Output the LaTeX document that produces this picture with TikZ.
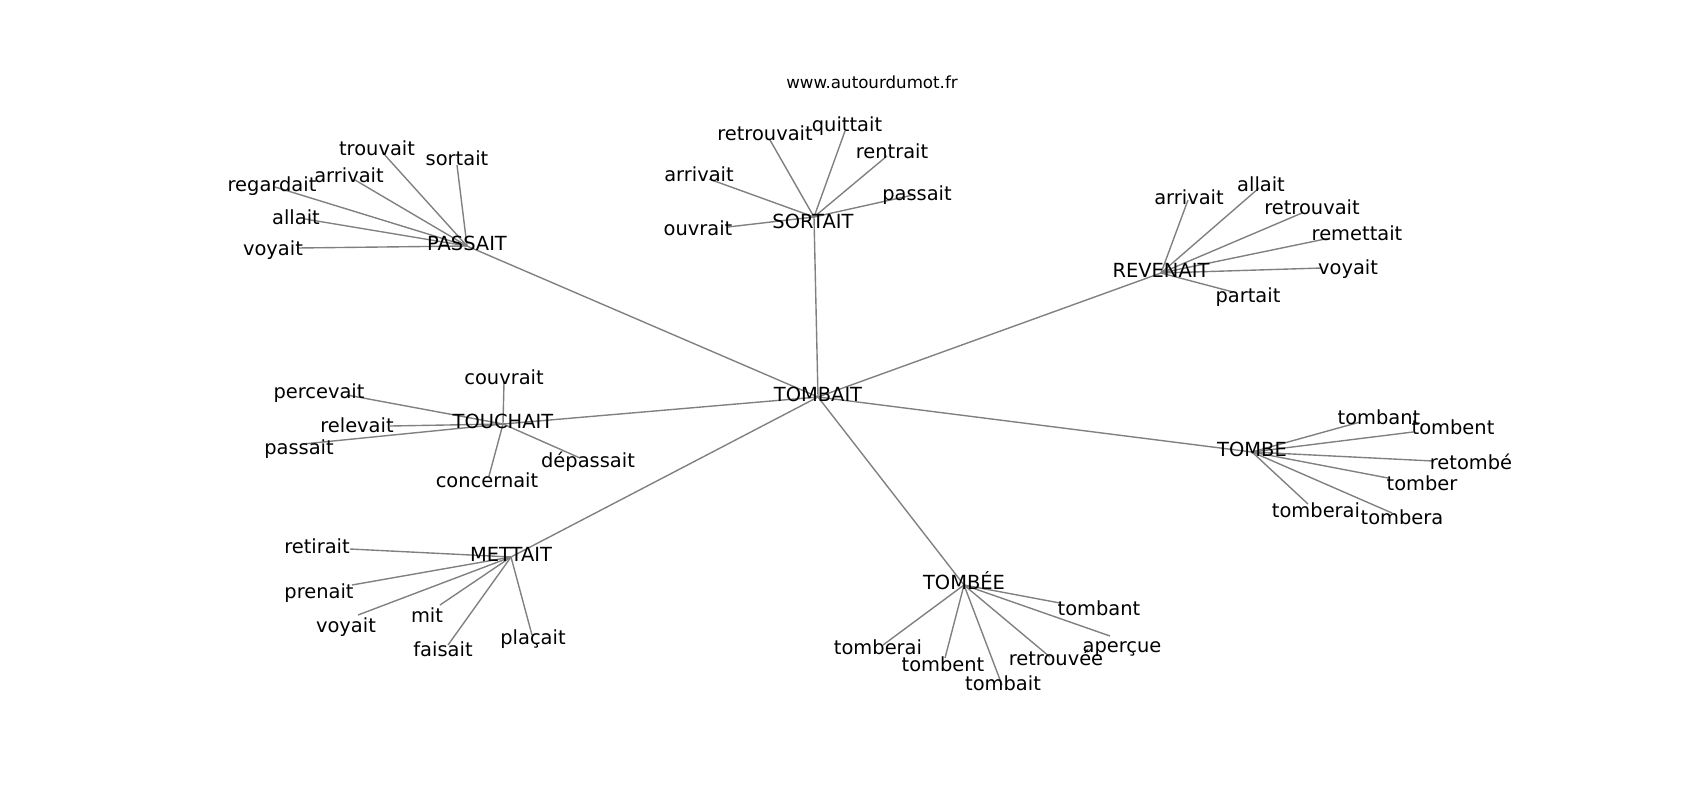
\documentclass[tikz,border=0pt]{standalone}
\usepackage{fontspec}
\setmainfont{DejaVu Sans}
\usepackage{tikz}
\usetikzlibrary{backgrounds}

\begin{document}
\begin{tikzpicture}[x=0.72pt,y=0.72pt,yscale=-1,xscale=1,
  word/.style={inner sep=0pt,font=\fontsize{14}{16}\selectfont,text height=15.3pt,text depth=4.9pt},
  hub/.style={word,text height=11.3pt},
  site/.style={inner sep=0pt,font=\fontsize{12}{14}\selectfont},
  link/.style={draw=gray,line width=1pt}]
\useasboundingbox (0,0) rectangle (1700,800);

\node[site] (site) at (872,82) {www.autourdumot.fr};

\node[hub] (tombait) at (818,397) {TOMBAIT};
\node[hub] (passait) at (467,246) {PASSAIT};
\node[hub] (sortait) at (813,224) {SORTAIT};
\coordinate (sortait-c) at (814,217);
\node[hub] (revenait) at (1161,273) {REVENAIT};
\node[hub] (touchait) at (503,424) {TOUCHAIT};
\node[hub] (tombe) at (1252,452) {TOMBE};
\node[hub] (mettait) at (511,557) {METTAIT};
\node[hub] (tombee) at (964,585) {TOMBÉE};

\node[word] (pa-trouvait) at (377,148) {trouvait};
\node[word] (pa-sortait) at (457,158) {sortait};
\node[word] (pa-arrivait) at (349,175) {arrivait};
\node[word] (pa-regardait) at (272,184) {regardait};
\node[word] (pa-allait) at (296,217) {allait};
\node[word] (pa-voyait) at (273,248) {voyait};
\coordinate (pa-trouvait-e) at (383,153);
\coordinate (pa-sortait-e) at (457,165);
\coordinate (pa-arrivait-e) at (355,180);
\coordinate (pa-regardait-e) at (275,187);
\coordinate (pa-allait-e) at (305,219);
\coordinate (pa-voyait-e) at (297,248);

\node[word] (so-retrouvait) at (765,133) {retrouvait};
\node[word] (so-quittait) at (847,124) {quittait};
\node[word] (so-rentrait) at (892,151) {rentrait};
\node[word] (so-arrivait) at (699,174) {arrivait};
\node[word] (so-passait) at (917,193) {passait};
\node[word] (so-ouvrait) at (698,228) {ouvrait};
\coordinate (so-retrouvait-e) at (770,140);
\coordinate (so-quittait-e) at (845,131);
\coordinate (so-rentrait-e) at (887,156);
\coordinate (so-arrivait-e) at (709,179);
\coordinate (so-passait-e) at (913,195);
\coordinate (so-ouvrait-e) at (728,227);

\node[word] (re-arrivait) at (1189,197) {arrivait};
\node[word] (re-allait) at (1261,184) {allait};
\node[word] (re-retrouvait) at (1312,207) {retrouvait};
\node[word] (re-remettait) at (1357,233) {remettait};
\node[word] (re-voyait) at (1348,267) {voyait};
\node[word] (re-partait) at (1248,295) {partait};
\coordinate (re-arrivait-e) at (1188,200);
\coordinate (re-allait-e) at (1259,188);
\coordinate (re-retrouvait-e) at (1302,213);
\coordinate (re-remettait-e) at (1330,238);
\coordinate (re-voyait-e) at (1322,268);
\coordinate (re-partait-e) at (1233,292);

\node[word] (to-couvrait) at (504,377) {couvrait};
\node[word] (to-percevait) at (319,391) {percevait};
\node[word] (to-relevait) at (357,425) {relevait};
\node[word] (to-passait) at (299,447) {passait};
\node[word] (to-depassait) at (588,460) {dépassait};
\node[word] (to-concernait) at (487,480) {concernait};
\coordinate (to-couvrait-e) at (504,382);
\coordinate (to-percevait-e) at (347,395);
\coordinate (to-relevait-e) at (390,426);
\coordinate (to-passait-e) at (303,444);
\coordinate (to-depassait-e) at (580,458);
\coordinate (to-concernait-e) at (489,476);

\node[word] (tb-tombant) at (1379,417) {tombant};
\node[word] (tb-tombent) at (1453,427) {tombent};
\node[word] (tb-retombe) at (1471,462) {retombé};
\node[word] (tb-tomber) at (1422,483) {tomber};
\node[word] (tb-tomberai) at (1316,510) {tomberai};
\node[word] (tb-tombera) at (1402,517) {tombera};
\coordinate (tb-tombant-e) at (1360,422);
\coordinate (tb-tombent-e) at (1413,432);
\coordinate (tb-retombe-e) at (1433,461);
\coordinate (tb-tomber-e) at (1388,478);
\coordinate (tb-tomberai-e) at (1308,504);
\coordinate (tb-tombera-e) at (1392,513);

\node[word] (me-retirait) at (317,546) {retirait};
\node[word] (me-prenait) at (319,591) {prenait};
\node[word] (me-voyait) at (346,625) {voyait};
\node[word] (me-mit) at (427,615) {mit};
\node[word] (me-faisait) at (443,649) {faisait};
\node[word] (me-placait) at (533,637) {plaçait};
\coordinate (me-retirait-e) at (350,549);
\coordinate (me-prenait-e) at (352,585);
\coordinate (me-voyait-e) at (358,615);
\coordinate (me-mit-e) at (440,605);
\coordinate (me-faisait-e) at (448,645);
\coordinate (me-placait-e) at (532,635);

\node[word] (te-tombant) at (1099,608) {tombant};
\node[word] (te-apercue) at (1122,645) {aperçue};
\node[word] (te-retrouvee) at (1056,658) {retrouvée};
\node[word] (te-tombait) at (1003,683) {tombait};
\node[word] (te-tombent) at (943,664) {tombent};
\node[word] (te-tomberai) at (878,647) {tomberai};
\coordinate (te-tombant-e) at (1060,603);
\coordinate (te-apercue-e) at (1110,636);
\coordinate (te-retrouvee-e) at (1050,657);
\coordinate (te-tombait-e) at (1002,685);
\coordinate (te-tombent-e) at (945,658);
\coordinate (te-tomberai-e) at (883,645);

\begin{pgfonlayer}{background}
\draw[link] (tombait.center) -- (passait.center);
\draw[link] (tombait.center) -- (sortait-c);
\draw[link] (tombait.center) -- (revenait.center);
\draw[link] (tombait.center) -- (touchait.center);
\draw[link] (tombait.center) -- (tombe.center);
\draw[link] (tombait.center) -- (mettait.center);
\draw[link] (tombait.center) -- (tombee.center);

\draw[link] (passait.center) -- (pa-trouvait-e);
\draw[link] (passait.center) -- (pa-sortait-e);
\draw[link] (passait.center) -- (pa-arrivait-e);
\draw[link] (passait.center) -- (pa-regardait-e);
\draw[link] (passait.center) -- (pa-allait-e);
\draw[link] (passait.center) -- (pa-voyait-e);

\draw[link] (sortait-c) -- (so-retrouvait-e);
\draw[link] (sortait-c) -- (so-quittait-e);
\draw[link] (sortait-c) -- (so-rentrait-e);
\draw[link] (sortait-c) -- (so-arrivait-e);
\draw[link] (sortait-c) -- (so-passait-e);
\draw[link] (sortait-c) -- (so-ouvrait-e);

\draw[link] (revenait.center) -- (re-arrivait-e);
\draw[link] (revenait.center) -- (re-allait-e);
\draw[link] (revenait.center) -- (re-retrouvait-e);
\draw[link] (revenait.center) -- (re-remettait-e);
\draw[link] (revenait.center) -- (re-voyait-e);
\draw[link] (revenait.center) -- (re-partait-e);

\draw[link] (touchait.center) -- (to-couvrait-e);
\draw[link] (touchait.center) -- (to-percevait-e);
\draw[link] (touchait.center) -- (to-relevait-e);
\draw[link] (touchait.center) -- (to-passait-e);
\draw[link] (touchait.center) -- (to-depassait-e);
\draw[link] (touchait.center) -- (to-concernait-e);

\draw[link] (tombe.center) -- (tb-tombant-e);
\draw[link] (tombe.center) -- (tb-tombent-e);
\draw[link] (tombe.center) -- (tb-retombe-e);
\draw[link] (tombe.center) -- (tb-tomber-e);
\draw[link] (tombe.center) -- (tb-tomberai-e);
\draw[link] (tombe.center) -- (tb-tombera-e);

\draw[link] (mettait.center) -- (me-retirait-e);
\draw[link] (mettait.center) -- (me-prenait-e);
\draw[link] (mettait.center) -- (me-voyait-e);
\draw[link] (mettait.center) -- (me-mit-e);
\draw[link] (mettait.center) -- (me-faisait-e);
\draw[link] (mettait.center) -- (me-placait-e);

\draw[link] (tombee.center) -- (te-tombant-e);
\draw[link] (tombee.center) -- (te-apercue-e);
\draw[link] (tombee.center) -- (te-retrouvee-e);
\draw[link] (tombee.center) -- (te-tombait-e);
\draw[link] (tombee.center) -- (te-tombent-e);
\draw[link] (tombee.center) -- (te-tomberai-e);
\end{pgfonlayer}
\end{tikzpicture}
\end{document}
